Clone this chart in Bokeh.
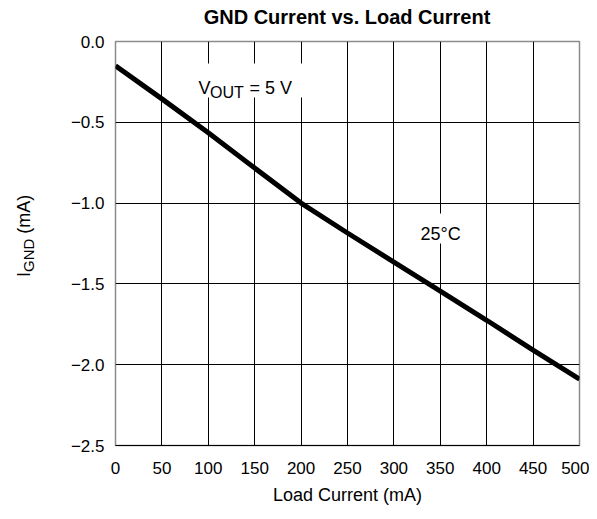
from bokeh.plotting import figure
from bokeh.models import FixedTicker, Label, BoxAnnotation, Range1d, Div
from bokeh.layouts import row, column
from bokeh.embed import file_html
from bokeh.resources import INLINE

# ---- data ----
load_ma = [0, 50, 100, 150, 200, 250, 300, 350, 400, 450, 500]
ignd_ma = [-0.15, -0.355, -0.565, -0.783, -1.0, -1.185, -1.365, -1.545, -1.725, -1.91, -2.09]

x_ticks = [0, 50, 100, 150, 200, 250, 300, 350, 400, 450, 500]
y_ticks = [-2.5, -2.0, -1.5, -1.0, -0.5, 0.0]
y_tick_labels = ["\u22122.5", "\u22122.0", "\u22121.5", "\u22121.0", "\u22120.5", "0.0"]

title_text = "GND Current vs. Load Current"

FONT = "Liberation Sans"
DIV_W = 60
TITLE_H = 30
TOTAL_W, TOTAL_H = 589, 511
PLOT_H = TOTAL_H - TITLE_H

p = figure(width=TOTAL_W - DIV_W, height=PLOT_H, output_backend="svg", toolbar_location=None,
           x_range=Range1d(0, 500), y_range=Range1d(-2.5, 0.0),
           min_border_left=115 - DIV_W, min_border_right=10,
           min_border_top=41 - TITLE_H, min_border_bottom=66)

p.outline_line_color = "#8c8c8c"
p.outline_line_width = 1.5
p.background_fill_color = "white"
p.border_fill_color = "white"

# axes
p.xaxis.ticker = FixedTicker(ticks=x_ticks)
p.yaxis.ticker = FixedTicker(ticks=y_ticks)
p.yaxis.major_label_overrides = {t: s for t, s in zip(y_ticks, y_tick_labels)}
for ax in (p.xaxis, p.yaxis):
    ax.major_tick_line_color = None
    ax.minor_tick_line_color = None
    ax.major_tick_out = 0
    ax.major_tick_in = 0
    ax.major_label_text_font = FONT
    ax.major_label_text_font_size = "17px"
    ax.major_label_text_color = "black"
p.xaxis.major_label_standoff = 16
p.yaxis.major_label_standoff = 11
p.xaxis.axis_line_color = "black"
p.yaxis.axis_line_color = None

p.xaxis.axis_label = "Load Current (mA)"
p.xaxis.axis_label_text_font = FONT
p.xaxis.axis_label_text_font_size = "18px"
p.xaxis.axis_label_text_font_style = "normal"
p.xaxis.axis_label_text_color = "black"
p.xaxis.axis_label_standoff = 8

# grid (interior lines black)
p.xgrid.ticker = FixedTicker(ticks=x_ticks[1:-1])
p.ygrid.ticker = FixedTicker(ticks=y_ticks[1:-1])
for g in (p.xgrid, p.ygrid):
    g.grid_line_color = "black"
    g.grid_line_width = 1
    g.grid_line_alpha = 1.0

# curve
p.line(load_ma, ignd_ma, line_color="black", line_width=5)

# white boxes behind annotations
p.add_layout(BoxAnnotation(left=81, right=203, top=-0.136, bottom=-0.347,
                           fill_color="white", fill_alpha=1.0, line_alpha=0))
p.add_layout(BoxAnnotation(left=318, right=386, top=-1.064, bottom=-1.25,
                           fill_color="white", fill_alpha=1.0, line_alpha=0))

def lab(text, x, y, size, xo=0, yo=0):
    p.add_layout(Label(text=text, x=x, y=y, x_offset=xo, y_offset=yo,
                       text_font=FONT, text_font_size=size, text_color="black",
                       text_baseline="alphabetic", text_align="left"))

# V_OUT = 5 V
lab("V", 89.4, -0.285, "18px")
lab("OUT", 89.4, -0.285, "16px", xo=11.5, yo=-5)
lab("= 5 V", 89.4, -0.285, "18px", xo=51)

# 25°C
lab("25\u00b0C", 328.7, -1.194, "18px")

# title (HTML text), centred over the plot frame
title_html = (
    f'<div style="position:relative;width:{TOTAL_W}px;height:{TITLE_H}px;">'
    '<div style="position:absolute;left:347px;top:7px;transform:translateX(-50%);'
    'white-space:nowrap;font-family:\'Liberation Sans\';font-weight:bold;'
    f'font-size:20px;line-height:20px;color:black;">{title_text}</div></div>'
)
title_div = Div(text=title_html, width=TOTAL_W, height=TITLE_H, margin=0)

# y axis label: I_GND (mA), rotated, as real HTML text
ylabel_html = (
    f'<div style="position:relative;width:{DIV_W}px;height:{PLOT_H}px;">'
    f'<div style="position:absolute;left:14px;top:{277 - TITLE_H}px;transform-origin:0 0;'
    'transform:rotate(-90deg);white-space:nowrap;font-family:\'Liberation Sans\';'
    'font-size:18px;line-height:20px;color:black;">'
    'I<span style="font-size:15px;position:relative;top:4px;">GND</span> (mA)'
    '</div></div>'
)
ylab = Div(text=ylabel_html, width=DIV_W, height=PLOT_H, margin=0)

layout = column(title_div, row(ylab, p, spacing=0), spacing=0)
open("out.html", "w").write(file_html(layout, INLINE))
